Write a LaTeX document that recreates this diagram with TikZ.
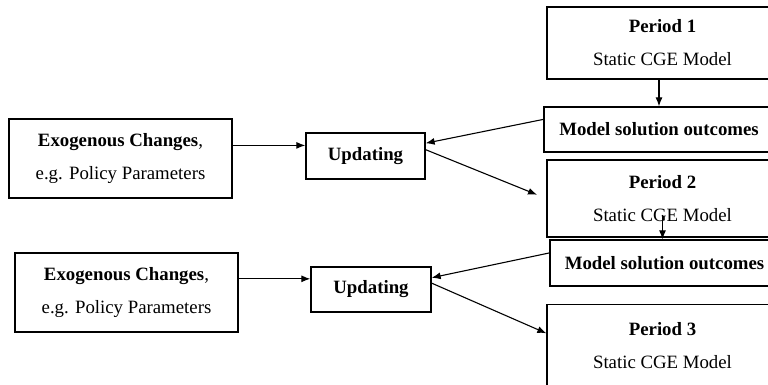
\documentclass[tikz,border=0pt]{standalone}
\usepackage{fontspec}
\setmainfont{Liberation Serif}
\usetikzlibrary{arrows.meta}
\tikzset{>={Latex[length=9pt,width=7pt]}}
\tikzset{box/.style={draw,line width=1.3pt,inner sep=0pt,align=center,font=\fontsize{18.8pt}{33pt}\selectfont}}

\begin{document}
\begin{tikzpicture}[x=1pt,y=-1pt,line width=1.1pt]
    \clip (0,0) rectangle (768,384);
      \node[box,minimum width=231,minimum height=72] (p1) at (662.5,43) {\textbf{Period 1}\\Static CGE Model};
      \node[box,minimum width=230,minimum height=45] (mso1) at (659,129.5) {\textbf{Model solution outcomes}};
      \node[box,minimum width=231,minimum height=77] (p2) at (662.5,198.5) {\textbf{Period 2}\\Static CGE Model};
      \node[box,minimum width=229,minimum height=46] (mso2) at (664.5,263) {\textbf{Model solution outcomes}};
      \node[box,minimum width=231,minimum height=82] (p3) at (662.5,345.5) {\textbf{Period 3}\\Static CGE Model};
      \node[box,minimum width=119,minimum height=46] (upd1) at (365.5,156) {\textbf{Updating}};
      \node[box,minimum width=120,minimum height=45] (upd2) at (371,289.5) {\textbf{Updating}};
      \node[box,minimum width=223,minimum height=79] (exo1) at (120.5,158.5) {\textbf{Exogenous Changes},\\e.g. Policy Parameters};
      \node[box,minimum width=223,minimum height=79] (exo2) at (126.5,292.5) {\textbf{Exogenous Changes},\\e.g. Policy Parameters};
      \draw[->] (p1.south -| mso1.north) -- (mso1.north);
      \draw[->] ([yshift=-16pt]p2.center) -- (p2.center |- mso2.north);
      \draw[->] (exo1.east |- upd1.170) -- (upd1.170);
      \draw[->] (exo2.east |- upd2.170) -- (upd2.170);
      \draw[->] (mso1.175) -- (upd1.12);
      \draw[->] (mso2.175) -- (upd2.11);
      \draw[->,shorten >=10pt] (upd1.6) -- (p2.west);
      \draw[->] (upd2.6) -- (p3.174);
     \end{tikzpicture}
\end{document}
